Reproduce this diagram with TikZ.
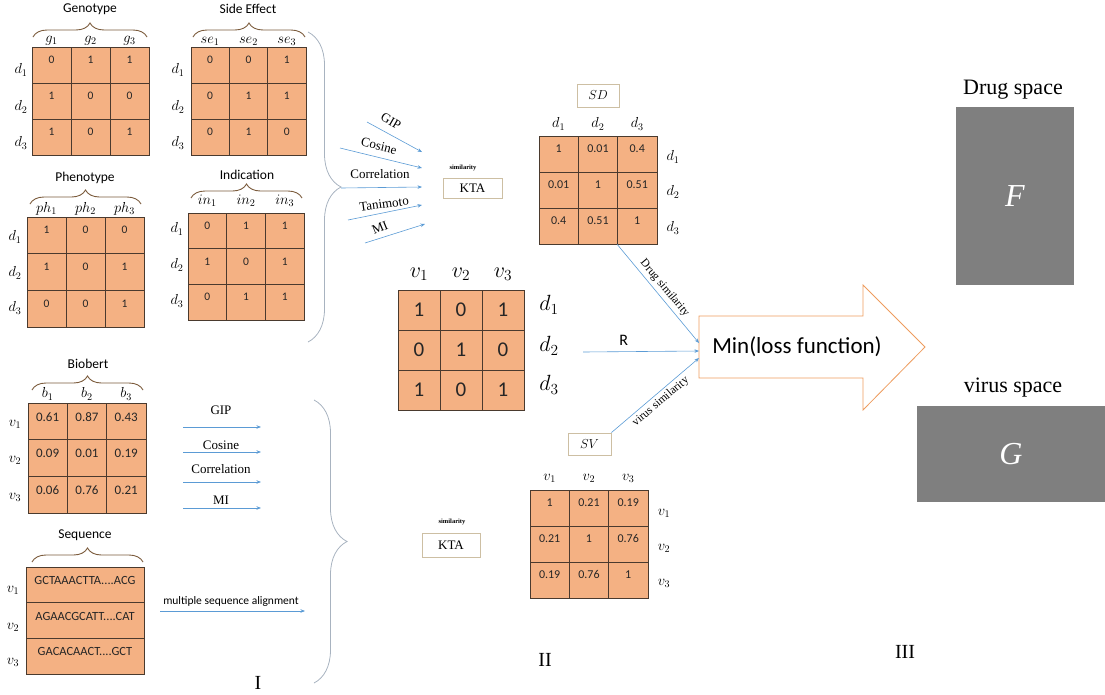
\documentclass[tikz,border=0pt]{standalone}
\usepackage{fix-cm}
\usepackage{fontspec}
\setmainfont{Liberation Serif}
\newfontfamily\calib{Carlito}
\usetikzlibrary{decorations.pathreplacing,arrows.meta,calc}

\definecolor{cellfill}{HTML}{F4B183}
\definecolor{gridline}{HTML}{4A3A2E}
\definecolor{bracebrown}{HTML}{7B5B3C}
\definecolor{bigbracec}{HTML}{A8B3C0}
\definecolor{flowc}{HTML}{5B9BD5}
\definecolor{ktaedge}{HTML}{CDBFA3}
\definecolor{lossedge}{HTML}{EE9C5E}
\definecolor{spacegray}{HTML}{7F7F7F}

\newcommand\fs[1]{\fontsize{#1}{#1}\selectfont}

% 3x3 grid of valued cells: name, x0, y0, cell width, cell height, font size, text offset, values
\newcommand\valgrid[8]{%
  \foreach \v [count=\k from 0] in {#8} {%
    \pgfmathtruncatemacro\mrow{\k/3}%
    \pgfmathtruncatemacro\mcol{mod(\k,3)}%
    \node[cell, minimum width=#4pt, minimum height=#5pt] (#1-\mrow-\mcol)
      at ({#2+(\mcol+0.5)*#4},{#3+(\mrow+0.5)*#5}) {};
    \node[celltext, font=\calib\fs{#6}] at ({#2+(\mcol+0.5)*#4},{#3+(\mrow+#7)*#5}) {\v};
  }}
% one row of the sequence table: index, text
\newcommand\seqrow[2]{%
  \node[cell, minimum width=118pt, minimum height=35.7pt] (seq-#1) at (85,{567+(#1+0.5)*35.7}) {};
  \node[celltext, font=\calib\fs{12.5}] at (85,{567+(#1+0.38)*35.7}) {#2};}
% column headings: x0, cell width, y, three labels
\newcommand\toplabels[6]{%
  \node[lab] at ({#1+0.5*#2},#3) {$#4$};
  \node[lab] at ({#1+1.5*#2},#3) {$#5$};
  \node[lab] at ({#1+2.5*#2},#3) {$#6$};}
% row headings: x, three y positions, three labels
\newcommand\sidelabels[7]{%
  \node[lab] at (#1,#2) {$#5$};
  \node[lab] at (#1,#3) {$#6$};
  \node[lab] at (#1,#4) {$#7$};}

\begin{document}
\begin{tikzpicture}[x=1pt,y=-1pt,
  cell/.style={draw=gridline,line width=0.8pt,fill=cellfill,inner sep=0pt},
  celltext/.style={inner sep=0pt,text=black!85},
  lab/.style={inner sep=0pt,font=\fs{14.5}},
  mtitle/.style={inner sep=0pt,font=\calib\fs{13.5}},
  smallbrace/.style={draw=bracebrown,line width=0.9pt,decorate,decoration={brace,amplitude=14pt}},
  bigbrace/.style={draw=bigbracec,line width=0.8pt,decorate,decoration={brace,amplitude=33pt}},
  flow/.style={draw=flowc,line width=0.6pt,-{Stealth[length=4.5pt,width=3.5pt]}},
  method/.style={inner sep=0pt,font=\fs{13}},
  tagbox/.style={draw=ktaedge,line width=0.8pt,inner sep=0pt},
  simtag/.style={inner sep=0pt,font=\bfseries\fs{6.5}},
  spacebox/.style={fill=spacegray,inner sep=0pt,text=white,font=\itshape\fs{32}},
]
\useasboundingbox (0,0) rectangle (1105,694);

% ---------------- drug feature matrices ----------------
\node[mtitle] (tgeno) at (90,9) {Genotype};
\draw[smallbrace] (33,37) -- (147,37);
\toplabels{32}{39}{41}{g_1}{g_2}{g_3}
\valgrid{geno}{32}{47}{39}{36}{11.5}{0.36}{0,1,1,1,0,0,1,0,1}
\sidelabels{21}{70}{107}{143}{d_1}{d_2}{d_3}

\node[mtitle] (tside) at (248,9) {Side Effect};
\draw[smallbrace] (193,37) -- (305,37);
\toplabels{191}{38.3}{41}{se_1}{se_2}{se_3}
\valgrid{side}{191}{47}{38.3}{36}{11.5}{0.36}{0,0,1,0,1,1,0,1,0}
\sidelabels{178}{70}{107}{143}{d_1}{d_2}{d_3}

\node[mtitle] (tpheno) at (85,178) {Phenotype};
\draw[smallbrace] (30,204) -- (141,204);
\toplabels{27}{39}{209}{ph_1}{ph_2}{ph_3}
\valgrid{pheno}{27}{217}{39}{36.7}{11.5}{0.36}{1,0,0,1,0,1,0,0,1}
\sidelabels{15}{237}{273}{308}{d_1}{d_2}{d_3}

\node[mtitle] (tindi) at (247,175) {Indication};
\draw[smallbrace] (191,198) -- (302,198);
\toplabels{188}{38.7}{201}{in_1}{in_2}{in_3}
\valgrid{indi}{188}{213}{38.7}{35.7}{11.5}{0.36}{0,1,1,1,0,1,0,1,1}
\sidelabels{177}{229}{265}{301}{d_1}{d_2}{d_3}

\draw[bigbrace] (308,32) -- (308,342);

% ---------------- virus feature matrices ----------------
\node[mtitle] (tbio) at (88,364) {Biobert};
\draw[smallbrace] (32,390) -- (143,390);
\toplabels{28}{39.3}{394}{b_1}{b_2}{b_3}
\valgrid{bio}{28}{403}{39.3}{36.7}{13}{0.38}{0.61,0.87,0.43,0.09,0.01,0.19,0.06,0.76,0.21}
\sidelabels{15}{424}{460}{497}{v_1}{v_2}{v_3}

\node[mtitle] (tseq) at (85,535) {Sequence};
\draw[smallbrace] (32,562) -- (143,562);
\seqrow{0}{GCTAAACTTA....ACG}
\seqrow{1}{AGAACGCATT....CAT}
\seqrow{2}{GACACAACT....GCT}
\sidelabels{13}{590}{627}{662}{v_1}{v_2}{v_3}

\draw[bigbrace] (314,400) -- (314,683);

% ---------------- virus similarity measures ----------------
\foreach \m/\yl/\ya [count=\k] in {GIP/410/427,Cosine/445/452,Correlation/469/482,MI/500/508} {
  \coordinate (vm\k-a) at (183,\ya);
  \coordinate (vm\k-b) at (261,\ya);
  \draw[flow] (vm\k-a) -- (vm\k-b);
  \node[method] (vmlab\k) at (221,\yl) {\m};
}
\coordinate (msa-a) at (160,611);
\coordinate (msa-b) at (305,611);
\draw[flow] (msa-a) -- (msa-b);
\node[inner sep=0pt, font=\calib\fs{11.5}] (msalab) at (231,601) {multiple sequence alignment};

% ---------------- drug similarity measures ----------------
\coordinate (dm1-a) at (367,122); \coordinate (dm1-b) at (422,152);
\coordinate (dm2-a) at (340,148); \coordinate (dm2-b) at (422,168);
\coordinate (dm3-a) at (341,188); \coordinate (dm3-b) at (422,187);
\coordinate (dm4-a) at (348,220); \coordinate (dm4-b) at (422,205);
\coordinate (dm5-a) at (365,243); \coordinate (dm5-b) at (425,224);
\foreach \k in {1,2,3,4,5} { \draw[flow] (dm\k-a) -- (dm\k-b); }
\node[method, rotate=-30] (dmlab1) at (391,121) {GIP};
\node[method, rotate=-14] (dmlab2) at (379,146) {Cosine};
\node[method] (dmlab3) at (380,174) {Correlation};
\node[method, rotate=8] (dmlab4) at (384,204) {Tanimoto};
\node[method, rotate=22] (dmlab5) at (380,228) {MI};

\node[tagbox, minimum width=59pt, minimum height=20pt, font=\fs{13}] (ktad) at (472.5,188) {KTA};
\node[simtag] (simd) at (463,168) {similarity};
\node[tagbox, minimum width=58pt, minimum height=24pt, font=\fs{13}] (ktav) at (451,545) {KTA};
\node[simtag] (simv) at (452,522) {similarity};

% ---------------- similarity matrices ----------------
\node[tagbox, minimum width=42pt, minimum height=23pt, font=\fs{13}] (sdbox) at (598,95.5) {$SD$};
\toplabels{539}{39.3}{124}{d_1}{d_2}{d_3}
\valgrid{sd}{539}{136}{39.3}{36}{12}{0.36}{1,0.01,0.4,0.01,1,0.51,0.4,0.51,1}
\sidelabels{673}{157}{192}{228}{d_1}{d_2}{d_3}

\node[tagbox, minimum width=43pt, minimum height=22pt, font=\fs{13}] (svbox) at (589.5,444) {$SV$};
\toplabels{530}{39.3}{478}{v_1}{v_2}{v_3}
\valgrid{sv}{530}{490}{39.3}{36}{12}{0.36}{1,0.21,0.19,0.21,1,0.76,0.19,0.76,1}
\sidelabels{664}{513}{548}{583}{v_1}{v_2}{v_3}

% ---------------- association matrix ----------------
\begin{scope}[lab/.style={inner sep=0pt,font=\fs{22}}]
\toplabels{398}{42}{274}{v_1}{v_2}{v_3}
\valgrid{rm}{398}{290}{42}{40}{21}{0.5}{1,0,1,0,1,0,1,0,1}
\sidelabels{549}{305}{346}{385}{d_1}{d_2}{d_3}
\end{scope}

% ---------------- optimisation ----------------
\draw[draw=lossedge, line width=0.8pt, fill=white]
  (699,316) -- (863,316) -- (863,285) -- (925,347) -- (863,410) -- (863,378) -- (699,378) -- cycle;
\node[inner sep=0pt, font=\calib\fs{23}] (loss) at (797,347) {Min(loss function)};
\coordinate (lossin) at (699,351);
\coordinate (rstart) at (583,352);

\draw[flow] (sd-2-2.south west) -- ($(lossin)+(0,-8)$)
  node[midway, sloped, above, inner sep=3pt, font=\fs{11.5}] {Drug similarity};
\draw[flow] (rstart) -- (lossin) node[pos=0.35, above=6pt, inner sep=0pt, font=\calib\fs{16}] {R};
\draw[flow] (svbox.north east) -- ($(lossin)+(0,7)$)
  node[midway, sloped, below, inner sep=3pt, font=\fs{11.5}] {virus similarity};

% ---------------- latent spaces ----------------
\node[inner sep=0pt, font=\fs{22}] (dspace) at (1013,90) {Drug space};
\node[spacebox, minimum width=118pt, minimum height=178pt] (fbox) at (1015,196) {F};
\node[inner sep=0pt, font=\fs{22}] (vspace) at (1013,388) {virus space};
\node[spacebox, minimum width=188pt, minimum height=96pt] (gbox) at (1011,454) {G};

% ---------------- stage labels ----------------
\node[inner sep=0pt, font=\fs{20}] (st1) at (258,683) {I};
\node[inner sep=0pt, font=\fs{20}] (st2) at (545,660) {II};
\node[inner sep=0pt, font=\fs{20}] (st3) at (905,652) {III};
\end{tikzpicture}
\end{document}
